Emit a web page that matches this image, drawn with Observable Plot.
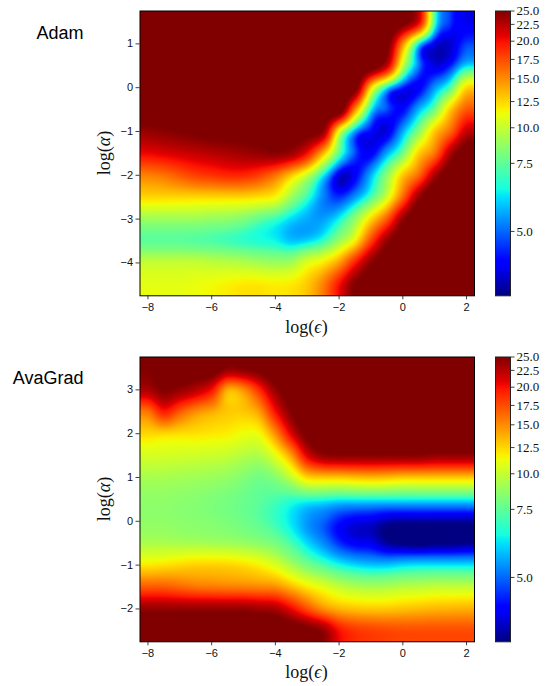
<!DOCTYPE html>
<html><head><meta charset="utf-8">
<script src="https://cdn.jsdelivr.net/npm/d3@7"></script>
<script src="https://cdn.jsdelivr.net/npm/@observablehq/plot@0.6"></script>
<style>
html,body{margin:0;padding:0;background:#fff}
#root{position:relative;width:545px;height:686px;overflow:hidden}
#root svg{position:absolute;overflow:visible}
.t{position:absolute;font-family:"Liberation Sans",Arial,sans-serif;font-size:18px;color:#000;white-space:nowrap;line-height:1}
.m{position:absolute;font-family:"Liberation Serif",serif;font-size:18px;color:#111;white-space:nowrap;line-height:1}
</style></head><body><div id="root"></div>
<script>
const epsilon=[-8,-7.5,-7,-6.5,-6,-5.5,-5,-4.5,-4,-3.5,-3,-2.5,-2,-1.5,-1,-0.5,0,0.5,1,1.5,2];
const alphaAdam=[1.5,1,0.5,0,-0.5,-1,-1.5,-2,-2.5,-3,-3.5,-4,-4.5];
const alphaAva=[3.5,3,2.5,2,1.5,1,0.5,0,-0.5,-1,-1.5,-2,-2.5];
const errorAdam=[
[28,28,28,28,28,28,28,28,28,28,28,28,28,28,28,28,26,21,7.2,4.6,4.1],
[28,28,28,28,28,28,28,28,28,28,28,28,28,28,28,26,15,6.5,4.1,3.9,4.7],
[28,28,28,28,28,28,28,28,28,28,28,28,28,28,27,22,10,5.2,4,4.5,6.2],
[28,28,28,28,28,28,28,28,28,28,28,28,28,26,12.5,6.5,4.5,4.2,5.5,7.5,12.5],
[27,27,27,27,27,27,27,27,27,27,27,27,27,15,6.5,4.8,4.3,5.8,8,13,17],
[24,24.5,25,25.5,26,26,26,26,26,26,26,24,11,5.6,4.3,4,5.7,8.5,13,16.5,22],
[20.5,21,21.5,22,22.5,23,23.5,24,24.5,23.5,20,13.5,7.5,4.8,4.2,5.7,8,12.8,16,23,27],
[15.5,16,17,18,18.5,19,19,18,16,13,10,6.5,4,4.2,5.8,8.6,13,16.5,23,27,28],
[12.5,12.5,12.5,12.5,12.5,12.5,12.5,12.2,11.5,9,7,5.3,4.6,5.5,7.3,10.5,16.5,24,28,28,28],
[9,9,9,9,8.8,8.7,8.3,7.6,7,6.2,5.7,5.6,6.5,8.7,12.5,17,24,28,28,28,28],
[7.5,7.5,7.5,7.4,7.3,7.1,6.9,6.7,6.5,6,6.2,7,9,11.8,18,24,27,28,28,28,28],
[10,10,10,10,9.8,9.7,9.5,9.2,9,9.2,10.8,12,14.5,19.5,24.5,27,28,28,28,28,28],
[11,11,11,11.2,11.4,11.7,12,12,11.8,12,13,15.5,20,25,27,28,28,28,28,28,28]
];
const errorAva=[
[25,26,27,27,27,24.5,25,26,28,28,28,28,28,28,28,28,28,28,28,28,28],
[23,25,24,22.5,20,14,15,19,24,27,28,28,28,28,28,28,28,28,28,28,28],
[16,19.5,17,15,14,13,13,14.5,20,25,28,28,28,28,28,28,28,28,28,28,28],
[12.5,12.5,12.3,12.2,12,11.8,11.3,11.5,15,21,26,28,28,28,28,28,28,28,28,28,28],
[10.5,10.5,10.4,10.3,10.2,10,9.6,9.5,11,14.5,21,24,24.5,24.5,24.5,24.5,24.5,24.5,24,24,24],
[9.3,9.3,9.2,9.1,9,8.8,8.4,8,8.5,10,12.5,13,13,13.3,13.5,13.3,13,13,13,13,13],
[8.7,8.7,8.6,8.5,8.3,8.1,7.8,7.5,7.2,6.9,6.8,6.7,6.5,6.5,6.5,6.5,6.5,6.5,6.5,6.5,6.5],
[8.7,8.7,8.6,8.5,8.4,8.2,7.9,7.5,7,6.3,5.5,5,4.4,4.1,4,3.7,3.6,3.6,3.6,3.6,3.6],
[9.4,9.4,9.3,9.3,9.2,9.1,8.9,8.6,8.1,7.2,6.2,5.4,4.6,4.2,4.1,3.6,3.4,3.3,3.4,3.4,3.5],
[12,12.2,12.5,12.7,12.7,12.6,12.3,11.7,10.7,9.3,8.1,7.3,6.6,6.2,6,6,6.2,6.3,6.3,6.3,6.3],
[17,17,16.5,16,15.8,15.6,15.5,15.3,15,13.5,12,11,10,9.5,9.3,9.4,9.7,9.8,10,10,10],
[24,24,24,24,24,24,24,23.5,23,20.5,17.5,15,13.7,13.2,13,13,13.2,13.4,13.6,13.7,13.8],
[28,28,28,28,28,28,28,28,28,27,26,24,20,18.5,18,17.7,17.5,17.5,17.5,17.5,17.5]
];
const cbarValues=[3.4,5,7.5,10,12.5,15,17.5,20,22.5,25];
const cbarFractions=[0,0.226,0.465,0.59,0.682,0.762,0.83,0.894,0.953,1];
const cbarTicks=[5,7.5,10,12.5,15,17.5,20,22.5,25];
const epsTicks=[-8,-6,-4,-2,0,2];
const adamTicks=[-4,-3,-2,-1,0,1];
const avaTicks=[-2,-1,0,1,2,3];

function pw(t,pts){for(let i=1;i<pts.length;i++){if(t<=pts[i][0]){const a=pts[i-1],b=pts[i];return a[1]+(b[1]-a[1])*(t-a[0])/(b[0]-a[0]);}}return pts[pts.length-1][1];}
function jet(t){
  const r=pw(t,[[0,0],[.35,0],[.66,1],[.89,1],[1,.5]]);
  const g=pw(t,[[0,0],[.125,0],[.375,1],[.64,1],[.91,0],[1,0]]);
  const b=pw(t,[[0,.5],[.11,1],[.34,1],[.65,0],[1,0]]);
  return d3.rgb(r*255,g*255,b*255).formatRgb();
}
const valueOfT=d3.scaleLinear().domain(cbarFractions).range(cbarValues);
const knots=d3.range(0,129).map(i=>i/128);
const colorOpts={type:"linear",domain:knots.map(k=>valueOfT(k)),range:knots.map(jet),clamp:true};

function cub(a,b,c,d,s){return b+0.5*s*(c-a+s*(2*a-5*b+4*c-d+s*(3*(b-c)+d-a)));}
function sampler(xs,ys,grid){
  const nx=xs.length,ny=ys.length,x0=xs[0],dx=xs[1]-xs[0],y0=ys[0],dy=ys[1]-ys[0];
  const cl=(i,n)=>Math.max(0,Math.min(n-1,i));
  return (x,y)=>{
    const fx=(x-x0)/dx,fy=(y-y0)/dy,ix=Math.floor(fx),iy=Math.floor(fy),sx=fx-ix,sy=fy-iy;
    const col=[];
    for(let j=-1;j<=2;j++){const r=grid[cl(iy+j,ny)];
      col.push(cub(r[cl(ix-1,nx)],r[cl(ix,nx)],r[cl(ix+1,nx)],r[cl(ix+2,nx)],sx));}
    return cub(col[0],col[1],col[2],col[3],sy);
  };
}
const root=document.getElementById("root");
const sansFont='"Liberation Sans",Arial,sans-serif', serifFont='"Liberation Serif",serif';
const intFormat=d=>String(d).replace("-","\u2212");
function heat(top,ys,grid,yTicks,ymin,ymax){
  const p=Plot.plot({
    width:490,height:340,marginLeft:139.5,marginRight:16,marginTop:10.5,marginBottom:44.7,
    style:{fontFamily:sansFont,fontSize:"11px",color:"#111",background:"transparent"},
    x:{domain:[-8.25,2.25]},y:{domain:[ymin,ymax]},color:colorOpts,
    marks:[
      Plot.raster({fill:sampler(epsilon,ys,grid),x1:-8.25,x2:2.25,y1:ymin,y2:ymax,pixelSize:1,imageRendering:"auto"}),
      Plot.frame({stroke:"#000",strokeWidth:1}),
      Plot.axisX({ticks:epsTicks,tickFormat:intFormat,label:null,tickSize:4,tickPadding:3,strokeWidth:0.8,fontSize:11}),
      Plot.axisY({ticks:yTicks,tickFormat:intFormat,label:null,tickSize:4,tickPadding:3,strokeWidth:0.8,fontSize:11})
    ]});
  p.style.left="0px";p.style.top=top+"px";root.appendChild(p);
}
function cbar(top){
  const p=Plot.plot({
    width:55,height:340,marginLeft:5,marginRight:35,marginTop:10.5,marginBottom:44.7,
    style:{fontFamily:serifFont,fontSize:"13px",color:"#111",background:"transparent"},
    x:{domain:[0,1],axis:null},
    y:{type:"linear",domain:cbarValues,range:cbarFractions.map(f=>295.3-f*284.8)},
    color:colorOpts,
    marks:[
      Plot.raster({fill:(x,y)=>y,x1:0,x2:1,y1:cbarValues[0],y2:25,pixelSize:1}),
      Plot.frame({stroke:"#222",strokeWidth:1}),
      Plot.axisY({anchor:"right",ticks:cbarTicks,tickFormat:d=>d.toFixed(1),label:null,tickSize:3.5,tickPadding:2.5,strokeWidth:0.8,fontSize:13})
    ]});
  p.style.left="490px";p.style.top=top+"px";root.appendChild(p);
}
function add(cls,html,css){const d=document.createElement("div");d.className=cls;d.innerHTML=html;Object.assign(d.style,css);root.appendChild(d);}
const panels=[
 {top:0,ys:alphaAdam,grid:errorAdam,ticks:adamTicks,lo:-4.75,hi:1.75,name:"Adam"},
 {top:345.5,ys:alphaAva,grid:errorAva,ticks:avaTicks,lo:-2.75,hi:3.75,name:"AvaGrad"}
];
for(const q of panels){
  heat(q.top,q.ys,q.grid,q.ticks,q.lo,q.hi);
  cbar(q.top);
  add("t",q.name,{right:(545-83.5)+"px",top:(q.top+23.5)+"px"});
  add("m","log(<i>ϵ</i>)",{left:"306.5px",top:(q.top+317.5)+"px",transform:"translateX(-50%)"});
  add("m","log(<i>α</i>)",{left:"104px",top:(q.top+153)+"px",transform:"translate(-50%,-50%) rotate(-90deg)"});
}
</script></body></html>
